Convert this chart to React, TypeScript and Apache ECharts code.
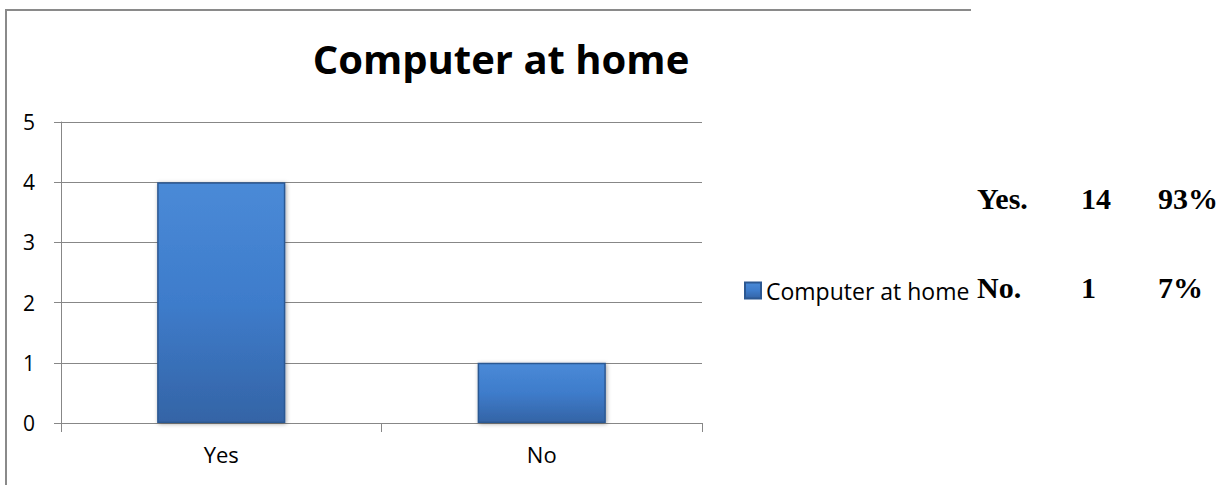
import React, { useEffect, useRef } from "react";
import * as echarts from "echarts";

const titleText = "Computer at home";
const categories = ["Yes", "No"];
const seriesName = "Computer at home";
const seriesValues = [4, 1];
const yTicks = { min: 0, max: 5, interval: 1 };
const tableRows = [
  ["Yes.", "14", "93%"],
  ["No.", "1", "7%"],
];

const sans = "'Open Sans', 'Noto Sans', sans-serif";
const serif = "'Liberation Serif', 'DejaVu Serif', serif";
const gray = "#878787";

export default function App() {
  const ref = useRef<HTMLDivElement>(null);

  useEffect(() => {
    if (!ref.current) return;
    const chart = echarts.init(ref.current, undefined, { renderer: "svg" });

    const colX = [977, 1081, 1158];
    const rowY = [198, 287];
    const tableGraphics: any[] = [];
    tableRows.forEach((row, ri) => {
      row.forEach((cell, ci) => {
        tableGraphics.push({
          type: "text",
          x: colX[ci],
          y: rowY[ri],
          style: {
            text: cell,
            font: `bold 30px ${serif}`,
            fill: "#000",
            textAlign: "left",
            textVerticalAlign: "middle",
          },
        });
      });
    });

    const barColor = new echarts.graphic.LinearGradient(0, 0, 0, 1, [
      { offset: 0, color: "#4a8ad7" },
      { offset: 0.5, color: "#3e7ccb" },
      { offset: 1, color: "#3464a6" },
    ]);

    chart.setOption({
      animation: false,
      backgroundColor: "#fff",
      graphic: [
        {
          type: "polyline",
          z: -10,
          shape: { points: [[6, 600], [6, 10], [971, 10]] },
          style: { fill: "none", stroke: "#8a8a8a", lineWidth: 2 },
          silent: true,
        },
        {
          type: "text",
          x: 501,
          y: 58,
          style: {
            text: titleText,
            font: `bold 40px ${sans}`,
            fill: "#000",
            textAlign: "center",
            textVerticalAlign: "middle",
          },
        },
        ...tableGraphics,
      ],
      legend: {
        show: true,
        left: 744,
        top: 279,
        padding: 0,
        itemWidth: 16,
        itemHeight: 16,
        icon: "rect",
        textStyle: { fontFamily: sans, fontSize: 23, color: "#000" },
        data: [seriesName],
      },
      grid: { left: 61, right: 530, top: 122, bottom: 62, containLabel: false },
      xAxis: {
        type: "category",
        data: categories,
        axisLine: { show: true, lineStyle: { color: gray, width: 1 } },
        axisTick: { show: true, length: 9, lineStyle: { color: gray, width: 1 } },
        axisLabel: { fontFamily: sans, fontSize: 22, color: "#000", margin: 20 },
        splitLine: { show: false },
      },
      yAxis: {
        type: "value",
        min: yTicks.min,
        max: yTicks.max,
        interval: yTicks.interval,
        axisLine: { show: true, lineStyle: { color: gray, width: 1 } },
        axisTick: { show: true, length: 7, lineStyle: { color: gray, width: 1 } },
        axisLabel: { fontFamily: sans, fontSize: 21, color: "#000", margin: 26 },
        splitLine: { show: true, lineStyle: { color: gray, width: 1 } },
      },
      series: [
        {
          name: seriesName,
          type: "bar",
          data: seriesValues,
          barWidth: "40%",
          itemStyle: {
            color: barColor,
            borderColor: "#2c5892",
            borderWidth: 1.5,
            shadowColor: "rgba(0,0,0,0.35)",
            shadowBlur: 4,
            shadowOffsetX: 1,
            shadowOffsetY: 1,
          },
        },
      ],
    });

    return () => {
      chart.dispose();
    };
  }, []);

  return (
    <div
      ref={ref}
      style={{ position: "absolute", left: 0, top: 0, width: 1232, height: 485 }}
    />
  );
}
